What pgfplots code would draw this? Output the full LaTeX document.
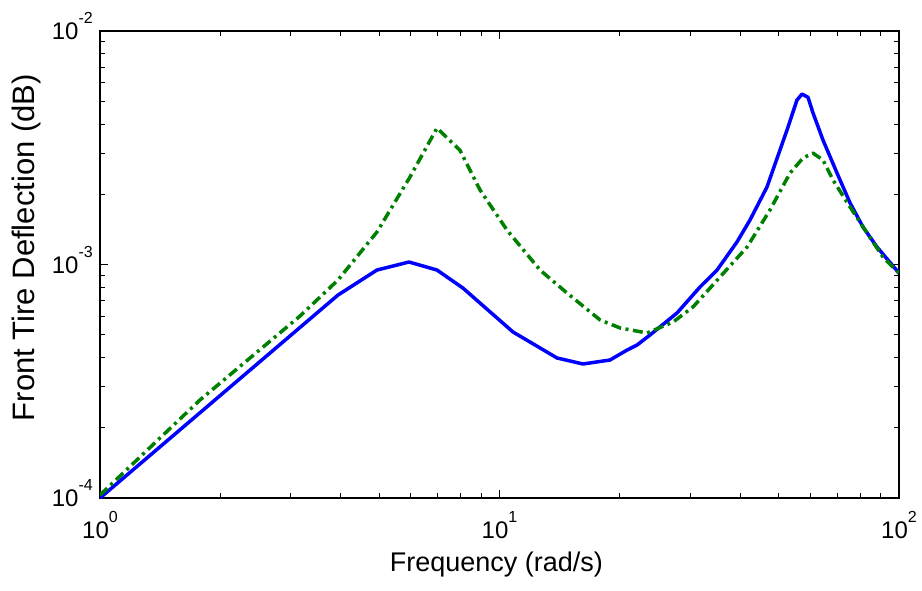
\documentclass[border=0pt]{standalone}
\usepackage{fontspec}
\setmainfont{Liberation Sans}
\usepackage{pgfplots}
\pgfplotsset{compat=1.18}
\definecolor{mblue}{RGB}{0,0,255}
\definecolor{mgreen}{RGB}{0,128,0}
% "10" with a raised exponent, as MATLAB sets it
\newcommand\tl[2]{#1\raisebox{16pt}{\fontsize{16}{16}\selectfont #2}}

\begin{document}
\begin{tikzpicture}
\begin{loglogaxis}[
    scale only axis,
    width=799pt, height=467pt,
    xmin=1, xmax=100,
    ymin=1e-4, ymax=1e-2,
    xtick={1,10,100},
    xticklabels={\tl{10}{0},\tl{10}{1},\tl{10}{2}},
    ytick={1e-4,1e-3,1e-2},
    yticklabels={\tl{10}{-4},\tl{10}{-3},\tl{10}{-2}},
    tick align=inside, tick pos=both,
    major tick length=8pt, minor tick length=5pt,
    every tick/.style={black, line width=0.8pt},
    axis line style={line width=1.1pt},
    xticklabel style={font=\fontsize{24}{24}\selectfont, anchor=base, inner sep=0pt, yshift=-40pt},
    yticklabel style={font=\fontsize{24}{24}\selectfont, anchor=base east, inner sep=0pt, xshift=-7pt, yshift=-8.5pt},
    xlabel={Frequency (rad/s)},
    ylabel={Front Tire Deflection (dB)},
    xlabel style={font=\fontsize{27}{27}\selectfont, at={(axis description cs:0.496,-0.1563)}, anchor=base},
    ylabel style={font=\fontsize{31}{31}\selectfont, at={(axis description cs:-0.0814,0.536)}, anchor=base},
]
\coordinate (sw) at (rel axis cs:0,0);
\coordinate (ne) at (rel axis cs:1,1);

% solid blue
\addplot[mblue, line width=3.5pt, line join=round] coordinates {
(1,1.0e-4) (3.942,7.40e-4) (4.935,9.47e-4) (5.935,1.025e-3) (6.975,9.47e-4)
(8.10,7.93e-4) (10.81,5.14e-4) (13.93,3.98e-4) (16.18,3.75e-4) (18.91,3.90e-4)
(20.85,4.30e-4) (22.09,4.52e-4) (23.81,4.99e-4) (27.82,6.20e-4) (31.76,8.01e-4)
(35.04,9.47e-4) (39.31,1.249e-3) (42.37,1.551e-3) (46.72,2.147e-3) (52.44,3.767e-3)
(55.54,5.06e-3) (57.18,5.37e-3) (59.19,5.20e-3) (60.92,4.46e-3) (64.54,3.41e-3)
(69.96,2.465e-3) (75.43,1.834e-3) (81.27,1.447e-3) (88.10,1.188e-3) (100,9.19e-4)
};

% dash-dot green
\addplot[mgreen, line width=3.5pt, line join=round, dash pattern=on 10pt off 4.5pt on 3pt off 4.5pt] coordinates {
(1,1.03e-4) (1.780,2.63e-4) (3.168,6.02e-4) (3.942,8.58e-4) (4.935,1.378e-3)
(5.970,2.37e-3) (6.975,3.84e-3) (7.96,3.09e-3) (8.94,2.085e-3) (10.44,1.405e-3)
(12.63,9.47e-4) (14.76,7.55e-4) (17.85,5.79e-4) (20.03,5.35e-4) (23.40,5.09e-4)
(27.19,5.67e-4) (30.51,6.58e-4) (35.64,8.84e-4) (41.65,1.188e-3) (47.54,1.712e-3)
(53.36,2.465e-3) (57.51,2.858e-3) (60.92,3.00e-3) (64.54,2.80e-3) (68.37,2.30e-3)
(75.43,1.763e-3) (83.17,1.364e-3) (91.18,1.077e-3) (100,9.19e-4)
};
\end{loglogaxis}
\pgfresetboundingbox
\path ([xshift=-100pt,yshift=-92pt]sw) rectangle ([xshift=23pt,yshift=31pt]ne);
\end{tikzpicture}
\end{document}
